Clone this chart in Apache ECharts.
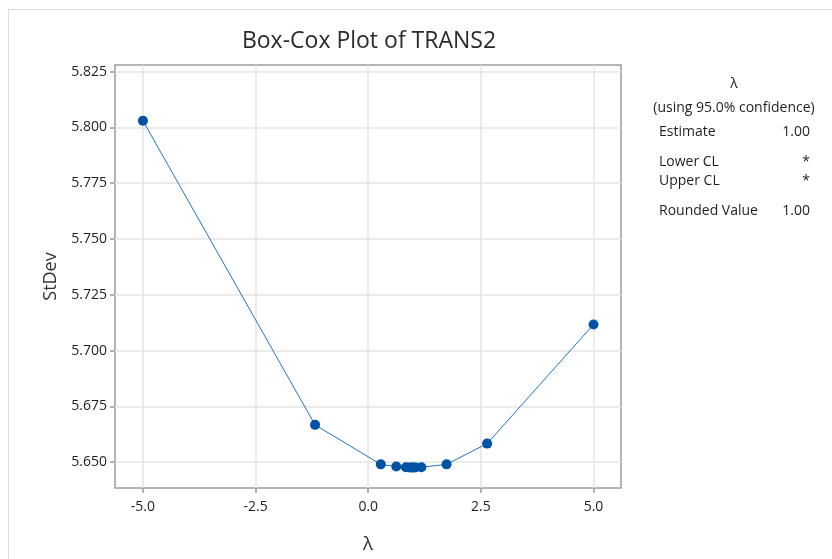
<!DOCTYPE html>
<html>
<head>
<meta charset="utf-8">
<script src="https://cdn.jsdelivr.net/npm/echarts@6/dist/echarts.min.js"></script>
<style>
html,body{margin:0;padding:0;background:#fff;}
#chart{width:832px;height:559px;}
</style>
</head>
<body>
<div id="chart"></div>
<script>
// Data
const lambdaValues = [-5.0, -1.18, 0.279, 0.623, 0.836, 0.917, 0.967, 0.999, 1.049, 1.18, 1.738, 2.639, 5.0];
const stdevValues  = [5.8030, 5.6667, 5.6490, 5.6480, 5.6477, 5.6476, 5.6476, 5.6476, 5.6476, 5.6477, 5.6490, 5.6583, 5.7117];
const xTicks = [-5.0, -2.5, 0.0, 2.5, 5.0];
const yTicks = [5.650, 5.675, 5.700, 5.725, 5.750, 5.775, 5.800, 5.825];
const titleText = 'Box-Cox Plot of TRANS2';
const xName = 'λ';
const yName = 'StDev';
const panelHeader = ['λ', '(using 95.0% confidence)'];
const panelLabels = ['Estimate', 'Lower CL', 'Upper CL', 'Rounded Value'];
const panelValues = ['1.00', '*', '*', '1.00'];

const FONT = '"Open Sans", "Noto Sans", sans-serif';
const TXT = '#1f1f1f';
const chart = echarts.init(document.getElementById('chart'));

const panelY = [132, 162, 181, 211];
const graphics = [
  { type: 'rect', shape: { x: 8.5, y: 9.5, width: 900, height: 700 }, style: { fill: 'none', stroke: '#dcdcdc', lineWidth: 1 }, silent: true },
  { type: 'text', x: 734, y: 84, style: { text: panelHeader[0], font: '14px ' + FONT, fill: TXT, align: 'center', verticalAlign: 'middle' } },
  { type: 'text', x: 734, y: 108, style: { text: panelHeader[1], font: '14px ' + FONT, fill: TXT, align: 'center', verticalAlign: 'middle' } }
];
panelLabels.forEach((l, i) => {
  graphics.push({ type: 'text', x: 659, y: panelY[i], style: { text: l, font: '14px ' + FONT, fill: TXT, align: 'left', verticalAlign: 'middle' } });
  graphics.push({ type: 'text', x: 810, y: panelY[i], style: { text: panelValues[i], font: '14px ' + FONT, fill: TXT, align: 'right', verticalAlign: 'middle' } });
});

chart.setOption({
  animation: false,
  backgroundColor: '#fff',
  title: {
    text: titleText,
    left: 364, top: 25, textAlign: 'center',
    textStyle: { fontFamily: FONT, fontSize: 23, fontWeight: 'normal', color: '#2b2b2b' }
  },
  grid: { left: 115, top: 65, right: 211, bottom: 70, show: true, borderColor: '#9c9c9c', borderWidth: 1.5, backgroundColor: 'transparent' },
  xAxis: {
    type: 'value', min: -5.62, max: 5.61,
    name: xName, nameLocation: 'middle', nameGap: 47,
    nameTextStyle: { fontFamily: FONT, fontSize: 19, color: '#333' },
    axisLine: { show: false, onZero: false },
    axisTick: { show: true, customValues: xTicks, length: 5, lineStyle: { color: '#9c9c9c', width: 1.5 } },
    axisLabel: { customValues: xTicks, formatter: v => v.toFixed(1), fontFamily: FONT, fontSize: 14, color: TXT, margin: 12 },
    splitLine: { show: true, lineStyle: { color: '#e4e4e4', width: 1.5 } }
  },
  yAxis: {
    type: 'value', min: 5.6384, max: 5.8280,
    name: yName, nameLocation: 'middle', nameGap: 55, nameRotate: 90,
    nameTextStyle: { fontFamily: FONT, fontSize: 18, color: '#333' },
    axisLine: { show: false, onZero: false },
    axisTick: { show: true, customValues: yTicks, length: 5, lineStyle: { color: '#9c9c9c', width: 1.5 } },
    axisLabel: { customValues: yTicks, formatter: v => v.toFixed(3), fontFamily: FONT, fontSize: 14, color: TXT, margin: 8 },
    splitLine: { show: true, lineStyle: { color: '#e4e4e4', width: 1.5 } }
  },
  series: [{
    type: 'line',
    data: lambdaValues.map((x, i) => [x, stdevValues[i]]),
    symbol: 'circle', symbolSize: 10,
    itemStyle: { color: '#0052a3' },
    lineStyle: { color: '#2473c6', width: 1 },
    clip: false
  }],
  graphic: graphics
});
</script>
</body>
</html>
